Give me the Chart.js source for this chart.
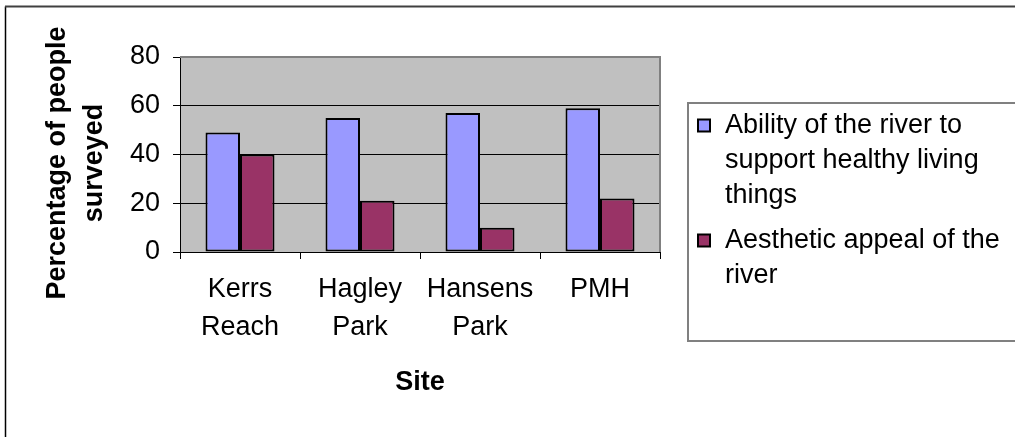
<!DOCTYPE html>
<html><head><meta charset="utf-8">
<script src="https://cdn.jsdelivr.net/npm/chart.js@4/dist/chart.umd.min.js"></script>
<style>html,body{margin:0;padding:0;background:#fff;}canvas{display:block;}</style>
</head><body>
<canvas id="c" width="1015" height="437"></canvas>
<script>
const categories = ['Kerrs Reach', 'Hagley Park', 'Hansens Park', 'PMH'];
const seriesNames = ['Ability of the river to support healthy living things', 'Aesthetic appeal of the river'];
const abilityValues = [49, 55, 57, 59];
const aestheticValues = [40, 21, 10, 22];
const yTicks = [0, 20, 40, 60, 80];
const yTitleLines = ['Percentage of people', 'surveyed'];
const xTitle = 'Site';
const seriesColors = ['#9999FF', '#993366'];

const FONT = '"Liberation Sans", Arial, sans-serif';

function wrapText(ctx, text, maxWidth) {
  const words = text.split(' ');
  const lines = [];
  let cur = '';
  for (const w of words) {
    const test = cur ? cur + ' ' + w : w;
    if (cur && ctx.measureText(test).width > maxWidth) { lines.push(cur); cur = w; }
    else cur = test;
  }
  if (cur) lines.push(cur);
  return lines;
}

const framePlugin = {
  id: 'frame',
  beforeDraw(chart) {
    const {ctx, chartArea: a} = chart;
    ctx.save();
    ctx.fillStyle = '#fff';
    ctx.fillRect(0, 0, chart.width, chart.height);
    ctx.fillStyle = '#C0C0C0';
    ctx.fillRect(a.left, a.top, a.right - a.left, a.bottom - a.top);
    ctx.restore();
  },
  beforeDatasetsDraw(chart) {
    const {ctx, chartArea: a} = chart;
    ctx.save();
    ctx.strokeStyle = '#808080';
    ctx.lineWidth = 2;
    ctx.beginPath();
    ctx.moveTo(a.left, a.top);
    ctx.lineTo(a.right, a.top);
    ctx.lineTo(a.right, a.bottom);
    ctx.stroke();
    ctx.restore();
  },
  afterDraw(chart) {
    const {ctx, chartArea: a} = chart;
    ctx.save();
    // outer chart frame
    ctx.strokeStyle = '#000';
    ctx.lineWidth = 1.5;
    ctx.beginPath();
    ctx.moveTo(5.5, chart.height);
    ctx.lineTo(5.5, 6.5);
    ctx.stroke();
    ctx.strokeStyle = '#404040';
    ctx.lineWidth = 2;
    ctx.beginPath();
    ctx.moveTo(5, 6.5);
    ctx.lineTo(chart.width, 6.5);
    ctx.stroke();

    // y axis title
    ctx.fillStyle = '#000';
    ctx.font = 'bold 27px ' + FONT;
    ctx.textAlign = 'center';
    ctx.textBaseline = 'middle';
    ctx.save();
    ctx.translate(58, 163);
    ctx.rotate(-Math.PI / 2);
    yTitleLines.forEach((ln, i) => ctx.fillText(ln, 0, i * 37));
    ctx.restore();

    // legend
    ctx.strokeStyle = '#808080';
    ctx.lineWidth = 2;
    ctx.strokeRect(688, 103, 400, 238);
    ctx.font = '27px ' + FONT;
    ctx.textAlign = 'left';
    ctx.textBaseline = 'middle';
    let y = 125.5;
    chart.data.datasets.forEach((ds, i) => {
      const lines = wrapText(ctx, ds.label, 288);
      ctx.fillStyle = ds.backgroundColor;
      ctx.fillRect(698, y - 6, 12, 12);
      ctx.strokeStyle = '#000';
      ctx.lineWidth = 2;
      ctx.strokeRect(698, y - 6, 12, 12);
      ctx.fillStyle = '#000';
      lines.forEach((ln, j) => ctx.fillText(ln, 725, y + j * 35));
      y += (lines.length - 1) * 35 + 45;
    });
    ctx.restore();
  }
};

new Chart(document.getElementById('c'), {
  type: 'bar',
  data: {
    labels: categories.map(c => c.split(' ')),
    datasets: [
      { label: seriesNames[0], data: abilityValues, backgroundColor: seriesColors[0], borderColor: '#000', borderWidth: 2, borderSkipped: false, categoryPercentage: 0.575, barPercentage: 1 },
      { label: seriesNames[1], data: aestheticValues, backgroundColor: seriesColors[1], borderColor: '#000', borderWidth: 2, borderSkipped: false, categoryPercentage: 0.575, barPercentage: 1 }
    ]
  },
  options: {
    responsive: false,
    animation: false,
    devicePixelRatio: 1,
    layout: { padding: { left: 6, top: 57, right: 355, bottom: 0 } },
    plugins: { legend: { display: false }, tooltip: { enabled: false } },
    scales: {
      x: {
        grid: { offset: true, drawOnChartArea: false, drawTicks: true, tickLength: 7, tickColor: '#000', tickWidth: 1 },
        border: { display: true, color: '#000', width: 1 },
        ticks: { color: '#000', font: { family: FONT, size: 27, lineHeight: 38 / 27 }, padding: 12, maxRotation: 0, autoSkip: false },
        title: { display: true, text: xTitle, color: '#000', font: { family: FONT, size: 27, weight: 'bold', lineHeight: 1.2 }, padding: { top: 0, bottom: 38 } },
        afterFit(s) { s.height = 185; }
      },
      y: {
        min: 0, max: 80,
        afterBuildTicks(s) { s.ticks = yTicks.map(v => ({ value: v })); },
        grid: {
          color: c => (c.tick && c.tick.value === 80) ? 'rgba(0,0,0,0)' : '#000',
          lineWidth: 1, tickLength: 7, tickColor: '#000'
        },
        border: { display: true, color: '#000', width: 1 },
        ticks: { color: '#000', font: { family: FONT, size: 27 }, padding: 13 },
        afterFit(s) { s.width = 174; }
      }
    }
  },
  plugins: [framePlugin]
});
</script>
</body></html>
